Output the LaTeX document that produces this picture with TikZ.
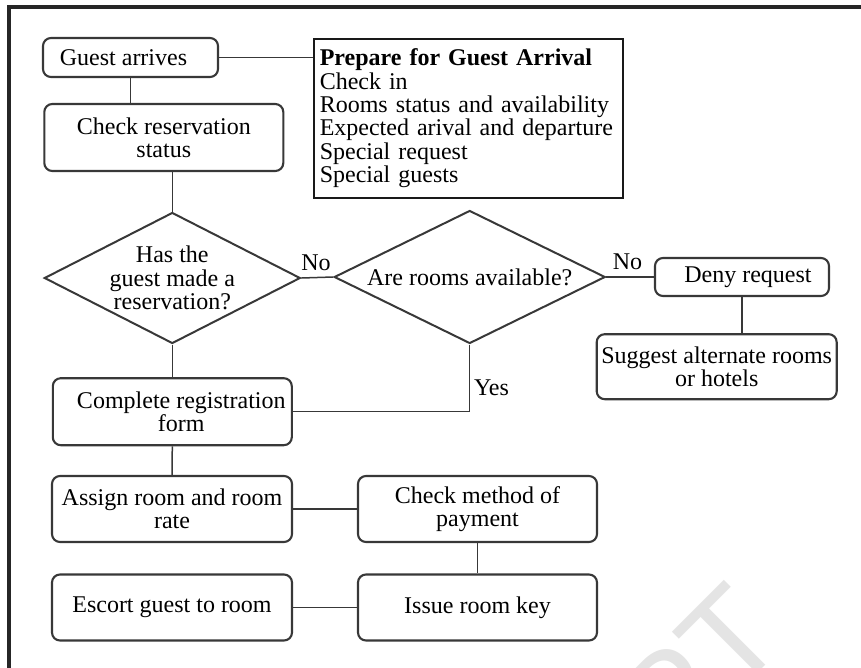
\documentclass[tikz,border=0pt]{standalone}
\usepackage{fontspec}
\setmainfont{Liberation Serif}
\newfontfamily\wmfont{Liberation Sans}
\usetikzlibrary{shapes.geometric}
\definecolor{edge}{HTML}{383838}
\definecolor{wm}{HTML}{E4E4E4}
\begin{document}
\begin{tikzpicture}[x=1pt,y=-1pt,
  every node/.style={font=\fontsize{24}{23.3}\selectfont},
  procbox/.style={draw=edge, line width=2.1pt, rounded corners=8pt, align=center, inner sep=0pt},
  decision/.style={draw=edge, line width=2pt, diamond, aspect=2, align=center, inner sep=0pt},
  link/.style={draw=edge, line width=1.5pt},
  tag/.style={anchor=base, inner sep=0pt}]
\useasboundingbox (0,0) rectangle (861,667);

% faint watermark in the lower right corner
\node[font=\wmfont\fontsize{130}{130}\selectfont, text=wm, rotate=45,
      anchor=base east, inner sep=0pt] (wmark) at (790,641) {PT};

% page frame (top and left edges)
\draw[line width=3.6pt, black!85] (8.7,672) -- (8.7,7) -- (866,7);

% process boxes
\node[procbox, minimum width=175, minimum height=39] (arrive) at (130.5,57.5) {\hspace*{-14pt}Guest arrives};
\node[procbox, minimum width=239, minimum height=67] (checkres) at (163.8,137.5) {Check reservation\\status};
\node[draw=black!90, line width=1.5pt, minimum width=309, minimum height=159,
      text width=297, align=left, inner xsep=6pt, inner ysep=0pt, anchor=north west]
      (prep) at (313,38)
      {\textbf{Prepare for Guest Arrival}\\Check in\\Rooms status and availability\\Expected arival and departure\\Special request\\Special guests};

% decisions
\node[decision, minimum width=256, minimum height=131] (hasres) at (172.3,278) {Has the\\guest made a\\reservation?};
\node[decision, minimum width=271, minimum height=133] (avail) at (469.7,277) {Are rooms available?};

\node[procbox, minimum width=174, minimum height=38] (deny) at (742,277) {\hspace*{12pt}Deny request};
\node[procbox, minimum width=240, minimum height=65] (suggest) at (716.7,366.7) {Suggest alternate rooms\\or hotels};
\node[procbox, minimum width=239, minimum height=67] (regform) at (172.3,411.7) {\hspace*{18pt}Complete registration\\\hspace*{18pt}form};
\node[procbox, minimum width=240, minimum height=66] (assign) at (172,509) {Assign room and room\\rate};
\node[procbox, minimum width=239, minimum height=66] (payment) at (477.5,509) {Check method of\\payment};
\node[procbox, minimum width=240, minimum height=66] (escort) at (172,607.5) {Escort guest to room};
\node[procbox, minimum width=239, minimum height=66] (key) at (477.5,607.5) {Issue room key};

% connectors
\draw[link] (arrive.south) -- (arrive.south |- checkres.north);
\draw[link] (arrive.east) -- (arrive.east -| prep.west);
\draw[link] (hasres.north) -- (hasres.north |- checkres.south);
\draw[link] (hasres.east) -- (avail.west);
\draw[link] (avail.east) -- (deny.west);
\draw[link] (deny.south) -- (deny.south |- suggest.north);
\draw[link] (hasres.south) -- (regform.north);
\draw[link] (avail.south) |- (regform.east);
\draw[link] (regform.south) -- (assign.north);
\draw[link] (assign.east) -- (payment.west);
\draw[link] (payment.south) -- (key.north);
\draw[link] (escort.east) -- (key.west);

% branch labels
\node[tag] (noleft) at (316,270) {No};
\node[tag] (noright) at (627.5,269) {No};
\node[tag] (yes) at (491.5,395) {Yes};
\end{tikzpicture}
\end{document}
